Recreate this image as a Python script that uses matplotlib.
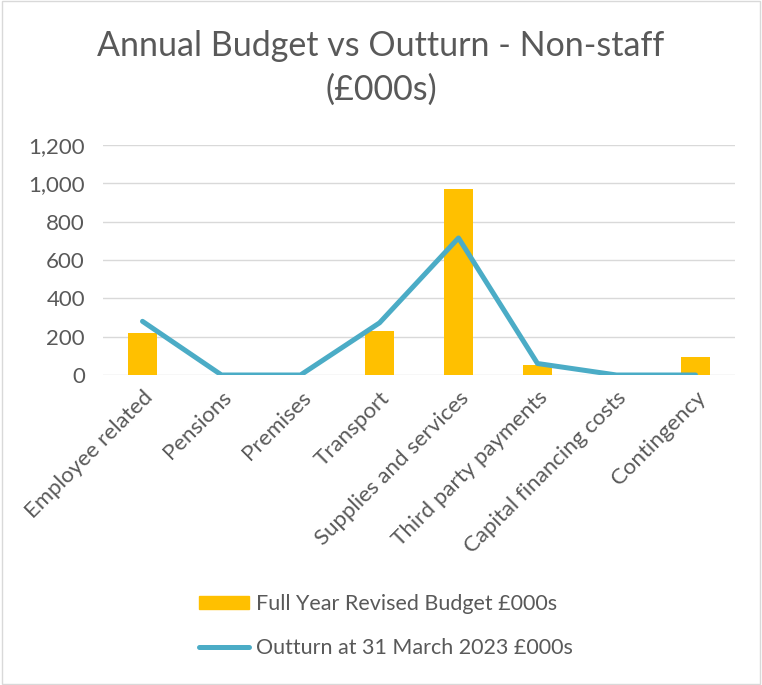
import matplotlib
matplotlib.use("Agg")
import matplotlib.pyplot as plt
from matplotlib.patches import Rectangle
from matplotlib.lines import Line2D
import numpy as np

categories = ["Employee related", "Pensions", "Premises", "Transport",
              "Supplies and services", "Third party payments",
              "Capital financing costs", "Contingency"]
budget = [218, 0, 0, 229, 973, 52, 0, 93]
outturn = [280, 0, 0, 272, 715, 60, 0, 0]
yticks = [0, 200, 400, 600, 800, 1000, 1200]

TEXT = "#595959"
BAR = "#FFC000"
LINE = "#4BACC6"
GRID = "#D9D9D9"

plt.rcParams["font.family"] = ["Lato", "DejaVu Sans"]

fig = plt.figure(figsize=(7.62, 6.85), dpi=100)
ax = fig.add_axes([103 / 762, 1 - 375 / 685, 632 / 762, 230 / 685])

x = np.arange(len(categories))
ax.bar(x, budget, width=0.37, color=BAR, zorder=2)
ax.plot(x, outturn, color=LINE, lw=3.6, solid_capstyle="round",
        solid_joinstyle="round", zorder=3)

ax.set_xlim(-0.5, len(categories) - 0.5)
ax.set_ylim(0, 1200)
ax.set_yticks(yticks)
ax.set_yticklabels([f"{v:,}" for v in yticks])
ax.yaxis.grid(True, color=GRID, lw=1.0, zorder=0)
ax.set_axisbelow(True)
for s in ax.spines.values():
    s.set_visible(False)
ax.tick_params(axis="both", length=0, colors=TEXT, labelsize=16)
ax.tick_params(axis="y", pad=13)
ax.set_xticks(x)
ax.set_xticklabels(categories, rotation=45, ha="right",
                   rotation_mode="anchor")
ax.tick_params(axis="x", pad=9)

fig.text(0.50, 1 - 68 / 685, "Annual Budget vs Outturn - Non-staff\n(£000s)",
         ha="center", va="center", fontsize=24.5, color=TEXT, linespacing=1.42)

handles = [Rectangle((0, 0), 1, 1, color=BAR),
           Line2D([0], [0], color=LINE, lw=3.6, solid_capstyle="round")]
labels = ["Full Year Revised Budget £000s", "Outturn at 31 March 2023 £000s"]
fig.legend(handles, labels, loc="center left",
           bbox_to_anchor=(180 / 762, 1 - 626 / 685), frameon=False,
           fontsize=15.5, labelcolor=TEXT, handlelength=2.3, handleheight=0.6,
           handletextpad=0.35, labelspacing=1.1)

# outer chart border
fig.add_artist(Rectangle((0.002, 0.002), 0.996, 0.996, transform=fig.transFigure,
                         fill=False, edgecolor="#D9D9D9", lw=1.0))

fig.savefig("out.png", dpi=100)
